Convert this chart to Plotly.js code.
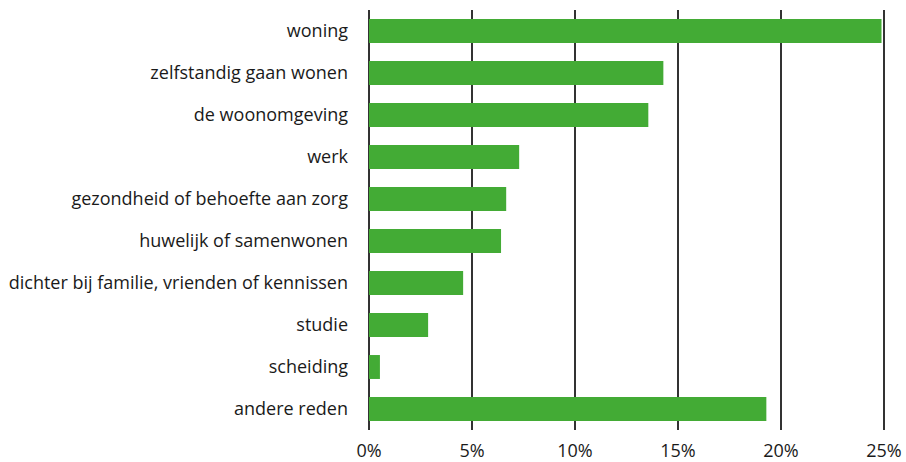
<!DOCTYPE html>
<html>
<head>
<meta charset="utf-8">
<script src="https://cdn.plot.ly/plotly-3.0.1.min.js"></script>
<style>html,body{margin:0;padding:0;background:#fff}#chart{width:906px;height:462px}</style>
</head>
<body>
<div id="chart"></div>
<script>
const categories = [
  "woning",
  "zelfstandig gaan wonen",
  "de woonomgeving",
  "werk",
  "gezondheid of behoefte aan zorg",
  "huwelijk of samenwonen",
  "dichter bij familie, vrienden of kennissen",
  "studie",
  "scheiding",
  "andere reden"
];
const values = [24.88, 14.29, 13.56, 7.29, 6.66, 6.41, 4.57, 2.87, 0.53, 19.29];
const tickValues = [0, 5, 10, 15, 20, 25];
const tickLabels = ["0%", "5%", "10%", "15%", "20%", "25%"];

const trace = {
  type: "bar",
  orientation: "h",
  y: categories,
  x: values,
  marker: {color: "#43ab35"},
  hoverinfo: "x+y"
};

const layout = {
  width: 906,
  height: 462,
  margin: {l: 369, r: 21, t: 10, b: 32},
  paper_bgcolor: "#ffffff",
  plot_bgcolor: "#ffffff",
  font: {family: "Open Sans, Noto Sans, sans-serif", size: 18, color: "#1a1a1a"},
  bargap: 0.43,
  showlegend: false,
  xaxis: {
    range: [0, 25.05],
    tickvals: tickValues,
    ticktext: tickLabels,
    showgrid: true,
    gridcolor: "#333333",
    gridwidth: 1.5,
    zeroline: true,
    zerolinecolor: "#333333",
    zerolinewidth: 1.5,
    showline: false,
    ticks: "",
    ticklabelstandoff: 8,
    fixedrange: true
  },
  yaxis: {
    type: "category",
    autorange: "reversed",
    showgrid: false,
    zeroline: false,
    showline: false,
    ticks: "",
    ticklabelstandoff: 20,
    fixedrange: true
  }
};

Plotly.newPlot("chart", [trace], layout, {displayModeBar: false, staticPlot: true});
</script>
</body>
</html>
